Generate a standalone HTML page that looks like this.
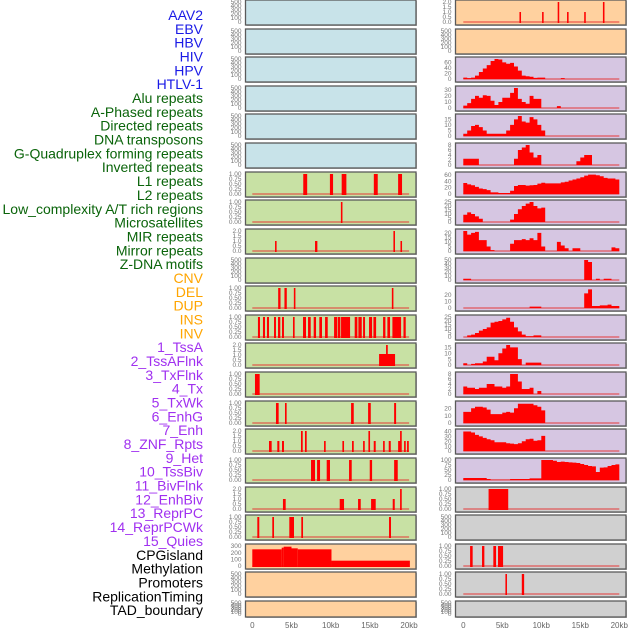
<!DOCTYPE html>
<html><head><meta charset="utf-8">
<style>
html,body{margin:0;padding:0;background:#fff;}
svg{display:block;font-family:"Liberation Sans",sans-serif;}
</style></head>
<body>
<svg id="chart" width="630" height="630" viewBox="0 0 630 630" xmlns="http://www.w3.org/2000/svg">
<g id="labels"></g>
<g id="panels"></g>
<g id="xaxes"></g>
</svg>
<script>
// ---- label data ----
const labelNames = ["AAV2","EBV","HBV","HIV","HPV","HTLV-1","Alu repeats","A-Phased repeats","Directed repeats","DNA transposons","G-Quadruplex forming repeats","Inverted repeats","L1 repeats","L2 repeats","Low_complexity A/T rich regions","Microsatellites","MIR repeats","Mirror repeats","Z-DNA motifs","CNV","DEL","DUP","INS","INV","1_TssA","2_TssAFlnk","3_TxFlnk","4_Tx","5_TxWk","6_EnhG","7_Enh","8_ZNF_Rpts","9_Het","10_TssBiv","11_BivFlnk","12_EnhBiv","13_ReprPC","14_ReprPCWk","15_Quies","CPGisland","Methylation","Promoters","ReplicationTiming","TAD_boundary"];
const labelGroups = [0,0,0,0,0,0,1,1,1,1,1,1,1,1,1,1,1,1,1,2,2,2,2,2,3,3,3,3,3,3,3,3,3,3,3,3,3,3,3,4,4,4,4,4];

// ---- x axis ticks ----
const xTickValues = [0,5,10,15,20];
const xTickLabels = ["0","5kb","10kb","15kb","20kb"];

// ---- left column interval data (kb) ----
const L6Starts=[6.5,9.9,11.4,15.5,18.6]; const L6Ends=[7.0,10.3,12.0,16.0,19.1]; const L6Vals=[1,1,1,1,1];
const L7Starts=[11.3]; const L7Ends=[11.5]; const L7Vals=[1];
const L8Starts=[2.9,8.0,18.0,18.9]; const L8Ends=[3.1,8.3,18.2,19.1]; const L8Vals=[1,1,2,1];
const L10Starts=[3.3,4.1,5.3,17.8]; const L10Ends=[3.6,4.4,5.5,18.0]; const L10Vals=[1,1,1,1];
const L11Starts=[0.72,1.36,1.87,2.77,3.28,3.79,5.19,6.47,7.11,7.83,8.55,9.28,10.43,10.89,11.32,13.06,13.53,14.13,14.89,15.45,16.68,17.23,17.87,19.28];
const L11Ends=[0.98,1.62,2.13,3.02,3.57,4.04,5.40,6.85,7.45,8.13,8.89,9.62,10.81,11.23,12.47,13.40,13.96,14.38,15.28,15.79,16.98,17.57,18.98,19.57];
const L11Vals=[1,1,1,1,1,1,1,1,1,1,1,1,1,1,1,1,1,1,1,1,1,1,1,1];
const L12Starts=[16.17,17.06]; const L12Ends=[18.21,17.28]; const L12Vals=[1.1,2];
const L13Starts=[0.34]; const L13Ends=[0.94]; const L13Vals=[1];
const L14Starts=[3.02,4.17,12.6,14.77,18.09]; const L14Ends=[3.36,4.38,12.94,15.11,18.34]; const L14Vals=[1,1,1,1,1];
const L15Starts=[2.13,3.19,3.79,6.21,6.72,9.15,11.49,12.72,14.13,14.81,15.49,16.68,17.40,18.60,18.85,19.36,19.74];
const L15Ends=[2.47,3.45,4.04,6.43,6.94,9.36,11.70,12.94,14.34,15.02,15.74,16.89,17.66,18.89,19.06,19.57,19.96];
const L15Vals=[1,1,1,2,2,1,1,1,1,2,1,1,1,1,2,1,1];
const L16Starts=[7.49,8.26,9.49,12.34,14.98,18.09]; const L16Ends=[8.0,8.64,9.91,12.68,15.28,18.55]; const L16Vals=[1,1,1,1,1,1];
const L17Starts=[3.91,11.15,13.49,15.15,17.91,18.85]; const L17Ends=[4.26,11.7,13.83,15.74,18.17,19.06]; const L17Vals=[1,1,1,1,1,2];
const L18Starts=[0.64,2.55,4.72,6.25,17.44]; const L18Ends=[0.89,2.77,5.32,6.47,17.69]; const L18Vals=[1,1,1,1,1];
const L19Starts=[0,3.75,4.0,5.0,5.8,10.1]; const L19Ends=[3.75,4.0,5.0,5.8,10.1,20.1]; const L19Vals=[250,275,290,265,250,80];

// ---- right column data ----
const R0Starts=[7.2,10.1,12.1,13.3,15.5,17.9]; const R0Ends=[7.4,10.3,12.3,13.5,15.7,18.1]; const R0Vals=[1,1,2,1,1,2];
const R17Starts=[3.24]; const R17Ends=[5.76]; const R17Vals=[1];
const R19Starts=[0.87,2.4,3.85,4.45]; const R19Ends=[1.2,2.7,4.2,5.1]; const R19Vals=[1,1,1,1];
const R20Starts=[5.4,7.5]; const R20Ends=[5.6,7.8]; const R20Vals=[1,1];
// binned series, 0.5kb bins
const R2Bins=[5,3,5,12,25,38,50,65,72,70,60,55,58,45,30,12,10,8,4,5,5,0,0,0,0,3,0,0,0,0,0,0,0,0,0,0,0,0,0,0];
const R3Bins=[4,8,15,20,17,21,20,12,5,10,17,17,25,33,15,10,7,20,15,15,0,0,0,0,3,0,0,0,0,0,0,0,0,0,0,0,0,0,0,0];
const R4Bins=[2,5,9,10,8,5,2,2,2,2,2,5,10,15,18,13,12,17,15,10,5];
const R5Bins=[2.5,2.5,2.5,2.5,0,0,0,0,0,0,0,0,0,2.5,6,7,8,5,3,4,0,0,0,0,0,0,0,0,0,1.5,3,4,4,0,0,0,0,0,0,0];
const R6Bins=[34,30,27,22,17,15,12,5,5,3,3,3,10,25,28,28,26,27,28,32,35,33,33,33,33,36,38,42,45,48,52,57,60,60,58,55,50,48,48,45];
const R7Bins=[9,12,10,7,4,0,0,0,0,0,0,0,3,10,16,20,23,25,20,17,18];
const R8Bins=[22,18,20,21,12,12,5,1,0,0,0,0,8,12,12,13,12,14,12,20,5,0,0,0,10,6,3,0,3,3,0,0,0,0,0,0,0,0,4,3];
const R9Bins=[3,3,0,0,0,0,0,0,0,0,0,0,0,0,0,0,0,0,0,0,0,0,0,0,0,0,0,0,0,0,0,50,45,0,3,0,3,3,0,0];
const R10Bins=[0,0,0,0,0,0,0,0,0,0,0,0,0,0,0,0,0,2,2,2,0,0,0,0,0,0,0,0,0,0,0,22,28,3,3,4,4,5,3,3];
const R11Bins=[0,2,3,5,8,10,12,18,19,20,22,24,19,12,7,3,1,1,2,2];
const R12Bins=[1.5,0,1,1.5,1.5,3,7,7,4,10,14,17,15,15,5,0,2,2,2,2];
const R13Bins=[3,2.5,2.5,2,2.5,2.5,4,4,3,3,2.5,3,8,8,5,2,2,2.5,0,1.2];
const R14Bins=[15,15,20,22,22,21,18,12,12,12,14,15,14,20,26,26,26,26,24,22,17];
const R15Bins=[40,40,38,33,30,27,24,22,18,18,18,16,15,14,16,20,24,25,21,22,31];
const R16Bins=[10,10,10,10,10,10,5,1,1,1,1,1,5,5,5,5,5,8,8,8,100,100,100,96,90,92,90,88,87,85,80,75,70,68,40,62,63,70,75,78];

// ---- tick value arrays ----
const ticksEmpty=[0,100,200,300,400,500];
const ticks1=[0,0.25,0.5,0.75,1];
const ticks2=[0,0.5,1,1.5,2];

const SVGNS="http://www.w3.org/2000/svg";
const rowTops=[];
for(let i=0;i<22;i++) rowTops.push(Math.round(i*28.62));
const colX=[{x0:245.5,x1:416,ox:252.3,k:7.84},{x0:455.5,x1:626,ox:463.3,k:7.8}];
const bgColors={blue:"#c8e3e9",green:"#c8e1a4",peach:"#ffd19f",purple:"#d6c6e2",grey:"#d0d0d0"};
const groupColors=["#1a1ae6","#0a640a","#ffa500","#a030f0","#000000"];

function el(tag,attrs,parent){const e=document.createElementNS(SVGNS,tag);for(const k in attrs)e.setAttribute(k,attrs[k]);parent.appendChild(e);return e;}
function xScale(col,kb){return colX[col].ox+kb*colX[col].k;}
function panelH(row){return row===21?16:25;}
function yScale(row,v,max){const t=rowTops[row]+2,b=rowTops[row]+panelH(row)-3;return b-(v/max)*(b-t);}

// labels
const lg=document.getElementById('labels');
labelNames.forEach((n,i)=>{
  const t=el('text',{x:203,y:(20+i*13.84).toFixed(1),'text-anchor':'end','font-size':'14',fill:groupColors[labelGroups[i]]},lg);
  
  
  t.textContent=n;
});

const pg=document.getElementById('panels');
function fmt(v,max){if(max<=1.01)return v.toFixed(2);if(max<=2.01)return v.toFixed(1);return String(v);}

function drawPanel(col,row,bg,ticks,max,kind,a,b,c){
  const g=el('g',{},pg);
  
  
  const h=panelH(row),top=rowTops[row],X=colX[col];
  el('rect',{x:X.x0+1,y:top+1,width:X.x1-X.x0,height:h,fill:'#bbb'},g);
  const r=el('rect',{x:X.x0,y:top,width:X.x1-X.x0,height:h,fill:bgColors[bg],stroke:'#5a5a5a','stroke-width':1.3},g);
  
  
  ticks.forEach(tv=>{
    const ty=yScale(row,tv,max);
    const t=el('text',{x:X.x0-4,y:(ty+2.2).toFixed(1),'text-anchor':'end','font-size':'6.5',fill:'#777'},g);
    
    
    t.textContent=fmt(tv,max);
  });
  if(kind==='empty')return;
  const y0=yScale(row,0,max);
  const base=el('line',{x1:xScale(col,0),x2:xScale(col,20),y1:y0,y2:y0,stroke:'rgba(230,40,40,0.45)','stroke-width':2},g);
  
  
  if(kind==='iv'){
    for(let i=0;i<a.length;i++){
      const x1=xScale(col,a[i]),x2=xScale(col,b[i]),yv=yScale(row,c[i],max);
      const m=el('rect',{x:x1.toFixed(2),y:yv.toFixed(2),width:Math.max(1.2,x2-x1).toFixed(2),height:(y0-yv+1).toFixed(2),fill:'#ff0000'},g);
      
      
    }
  } else if(kind==='bins'){
    let d='M'+xScale(col,0).toFixed(2)+','+y0;
    for(let i=0;i<a.length;i++){
      const yv=yScale(row,a[i],max).toFixed(2);
      d+=' L'+xScale(col,i*0.5).toFixed(2)+','+yv+' L'+xScale(col,(i+1)*0.5).toFixed(2)+','+yv;
    }
    d+=' L'+xScale(col,a.length*0.5).toFixed(2)+','+y0+' Z';
    const p=el('path',{d:d,fill:'#ff0000'},g);
    
    
  }
}

// left column
for(let r=0;r<6;r++) drawPanel(0,r,'blue',ticksEmpty,500,'empty');
drawPanel(0,6,'green',ticks1,1,'iv',L6Starts,L6Ends,L6Vals);
drawPanel(0,7,'green',ticks1,1,'iv',L7Starts,L7Ends,L7Vals);
drawPanel(0,8,'green',ticks2,2,'iv',L8Starts,L8Ends,L8Vals);
drawPanel(0,9,'green',ticksEmpty,500,'empty');
drawPanel(0,10,'green',ticks1,1,'iv',L10Starts,L10Ends,L10Vals);
drawPanel(0,11,'green',ticks1,1,'iv',L11Starts,L11Ends,L11Vals);
drawPanel(0,12,'green',ticks2,2,'iv',L12Starts,L12Ends,L12Vals);
drawPanel(0,13,'green',ticks1,1,'iv',L13Starts,L13Ends,L13Vals);
drawPanel(0,14,'green',ticks1,1,'iv',L14Starts,L14Ends,L14Vals);
drawPanel(0,15,'green',ticks2,2,'iv',L15Starts,L15Ends,L15Vals);
drawPanel(0,16,'green',ticks1,1,'iv',L16Starts,L16Ends,L16Vals);
drawPanel(0,17,'green',ticks2,2,'iv',L17Starts,L17Ends,L17Vals);
drawPanel(0,18,'green',ticks1,1,'iv',L18Starts,L18Ends,L18Vals);
drawPanel(0,19,'peach',[0,100,200,300],300,'iv',L19Starts,L19Ends,L19Vals);
drawPanel(0,20,'peach',ticksEmpty,500,'empty');
drawPanel(0,21,'peach',ticksEmpty,500,'empty');

// right column
drawPanel(1,0,'peach',ticks2,2,'iv',R0Starts,R0Ends,R0Vals);
drawPanel(1,1,'peach',ticksEmpty,500,'empty');
drawPanel(1,2,'purple',[0,20,40,60],72,'bins',R2Bins);
drawPanel(1,3,'purple',[0,10,20,30],33,'bins',R3Bins);
drawPanel(1,4,'purple',[0,5,10,15],18,'bins',R4Bins);
drawPanel(1,5,'purple',[0,2,4,6,8],8,'bins',R5Bins);
drawPanel(1,6,'purple',[0,20,40,60],62,'bins',R6Bins);
drawPanel(1,7,'purple',[0,5,10,15,20,25],25,'bins',R7Bins);
drawPanel(1,8,'purple',[0,5,10,15,20],22,'bins',R8Bins);
drawPanel(1,9,'purple',[0,10,20,30,40,50],50,'bins',R9Bins);
drawPanel(1,10,'purple',[0,10,20],30,'bins',R10Bins);
drawPanel(1,11,'purple',[0,5,10,15,20,25],25,'bins',R11Bins);
drawPanel(1,12,'purple',[0,5,10,15],17,'bins',R12Bins);
drawPanel(1,13,'purple',[0,2,4,6,8],8,'bins',R13Bins);
drawPanel(1,14,'purple',[0,10,20],27,'bins',R14Bins);
drawPanel(1,15,'purple',[0,10,20,30,40],41,'bins',R15Bins);
drawPanel(1,16,'purple',[0,25,50,75,100],100,'bins',R16Bins);
drawPanel(1,17,'grey',ticks1,1,'iv',R17Starts,R17Ends,R17Vals);
drawPanel(1,18,'grey',ticksEmpty,500,'empty');
drawPanel(1,19,'grey',ticks1,1,'iv',R19Starts,R19Ends,R19Vals);
drawPanel(1,20,'grey',ticks1,1,'iv',R20Starts,R20Ends,R20Vals);
drawPanel(1,21,'grey',ticksEmpty,500,'empty');

// x axes
const xg=document.getElementById('xaxes');
[0,1].forEach(col=>{
  xTickValues.forEach((v,i)=>{
    const t=el('text',{x:xScale(col,v).toFixed(1),y:628,'text-anchor':'middle','font-size':'8',fill:'#666'},xg);
    
    
    t.textContent=xTickLabels[i];
  });
});
</script>
</body></html>
